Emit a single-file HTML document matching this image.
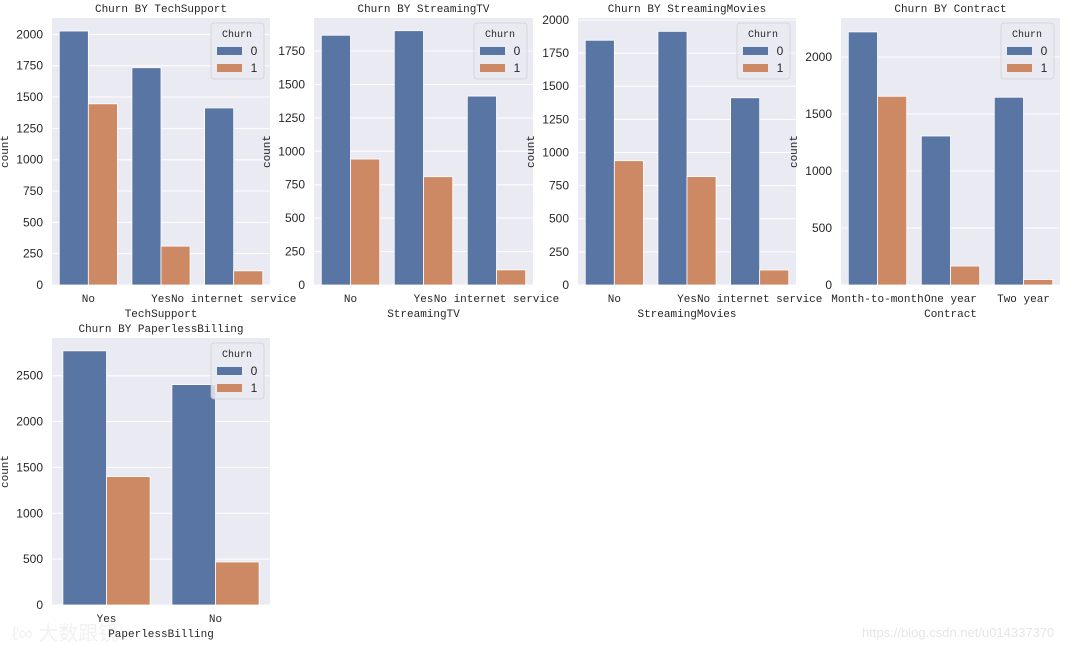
<!DOCTYPE html>
<html><head><meta charset="utf-8">
<style>
html,body{margin:0;padding:0;background:#fff;}
svg{display:block;}
.mono{font-family:"Liberation Mono","Noto Sans CJK SC",monospace;}
.sans{font-family:"Liberation Sans","Noto Sans CJK SC",sans-serif;}
</style></head>
<body>
<svg id="fig" width="1080" height="650" xmlns="http://www.w3.org/2000/svg">
<text x="862" y="637" class="sans" font-size="13" fill="#e6e6e6">https://blog.csdn.net/u014337370</text>
<text x="12" y="640" class="sans" font-size="20" fill="#eeeeee" opacity="0.8">ℓ∞ 大数跟镜</text>
</svg>
<script>
const titles = ["TechSupport","StreamingTV","StreamingMovies","Contract","PaperlessBilling"];
const catsTech = ["No","Yes","No internet service"];
const catsTV = ["No","Yes","No internet service"];
const catsMovies = ["No","Yes","No internet service"];
const catsContract = ["Month-to-month","One year","Two year"];
const catsPaper = ["Yes","No"];
const churn0Tech = [2027,1734,1413];
const churn1Tech = [1446,310,113];
const churn0TV = [1868,1902,1413];
const churn1TV = [942,810,113];
const churn0Movies = [1847,1914,1413];
const churn1Movies = [938,818,113];
const churn0Contract = [2220,1307,1647];
const churn1Contract = [1655,166,48];
const churn0Paper = [2771,2403];
const churn1Paper = [1400,469];
const ticksTech = [0,250,500,750,1000,1250,1500,1750,2000];
const ticksTV = [0,250,500,750,1000,1250,1500,1750];
const ticksMovies = [0,250,500,750,1000,1250,1500,1750,2000];
const ticksContract = [0,500,1000,1500,2000];
const ticksPaper = [0,500,1000,1500,2000,2500];
const yMax = [2131,1997,2015,2342,2911];

const svg = document.getElementById('fig');
const NS = 'http://www.w3.org/2000/svg';
const C0 = '#5875a4', C1 = '#cc8963';
function mk(tag, attrs, parent){
  const e = document.createElementNS(NS, tag);
  for (const k in attrs) e.setAttribute(k, attrs[k]);
  (parent||svg).appendChild(e);
  return e;
}
const panels = [
  {x:52,y:18,w:218,h:267,cats:catsTech,a:churn0Tech,b:churn1Tech,ticks:ticksTech},
  {x:314,y:18,w:219,h:267,cats:catsTV,a:churn0TV,b:churn1TV,ticks:ticksTV},
  {x:578,y:18,w:218,h:267,cats:catsMovies,a:churn0Movies,b:churn1Movies,ticks:ticksMovies},
  {x:841,y:18,w:219,h:267,cats:catsContract,a:churn0Contract,b:churn1Contract,ticks:ticksContract},
  {x:52,y:338,w:218,h:267,cats:catsPaper,a:churn0Paper,b:churn1Paper,ticks:ticksPaper}
];
panels.forEach((p,i)=>{
  const g = mk('g',{});
  
  
  const bg = mk('rect',{x:p.x,y:p.y,width:p.w,height:p.h,fill:'#eaeaf2'},g);
  
  
  const yS = v => p.y + p.h - v / yMax[i] * p.h;
  p.ticks.forEach(t=>{
    const yy = yS(t);
    const gl = mk('line',{x1:p.x,x2:p.x+p.w,y1:yy,y2:yy,stroke:'#fff','stroke-width':1},g);
    
    
    const tl = mk('text',{x:p.x-9,y:yy+4,'text-anchor':'end','font-size':12,fill:'#262626',class:'sans'},g);
    tl.textContent = t;
    
    
  });
  const n = p.cats.length, step = p.w / n, bw = step * 0.4;
  p.cats.forEach((c,j)=>{
    const cx = p.x + step*(j+0.5);
    [[p.a[j],C0,cx-bw],[p.b[j],C1,cx]].forEach((s,k)=>{
      const r = mk('rect',{x:s[2],y:yS(s[0]),width:bw,height:yS(0)-yS(s[0]),fill:s[1],stroke:'#fff','stroke-width':0.8},g);
      
      
    });
    const xl = mk('text',{x:cx,y:p.y+p.h+17,'text-anchor':'middle','font-size':11,fill:'#262626',class:'mono'},g);
    xl.textContent = c;
    
    
  });
  const tt = mk('text',{x:p.x+p.w/2,y:p.y-6,'text-anchor':'middle','font-size':11,fill:'#262626',class:'mono'},g);
  tt.textContent = 'Churn BY ' + titles[i];
  
  
  const xt = mk('text',{x:p.x+p.w/2,y:p.y+p.h+32,'text-anchor':'middle','font-size':11,fill:'#262626',class:'mono'},g);
  xt.textContent = titles[i];
  
  
  const ytx = p.x - 44, yty = p.y + p.h/2;
  const yt = mk('text',{x:ytx,y:yty,'text-anchor':'middle','font-size':11,fill:'#262626',class:'mono',transform:`rotate(-90 ${ytx} ${yty})`},g);
  yt.textContent = 'count';
  
  
  const lx = p.x + p.w - 59, ly = p.y + 5;
  const lg = mk('g',{},g);
  
  
  mk('rect',{x:lx,y:ly,width:53,height:56,rx:3,fill:'#eaeaf2',stroke:'#cccccc','stroke-width':0.8,opacity:0.85},lg);
  const lt = mk('text',{x:lx+26,y:ly+14,'text-anchor':'middle','font-size':10,fill:'#262626',class:'mono'},lg);
  lt.textContent = 'Churn';
  ['0','1'].forEach((lab,k)=>{
    const ey = ly + 24 + k*17;
    const pa = mk('rect',{x:lx+6,y:ey,width:25,height:8,fill:k? C1:C0},lg);
    
    
    const et = mk('text',{x:lx+43,y:ey+8,'text-anchor':'middle','font-size':12,fill:'#262626',class:'sans'},lg);
    et.textContent = lab;
  });
});
</script>
</body></html>
